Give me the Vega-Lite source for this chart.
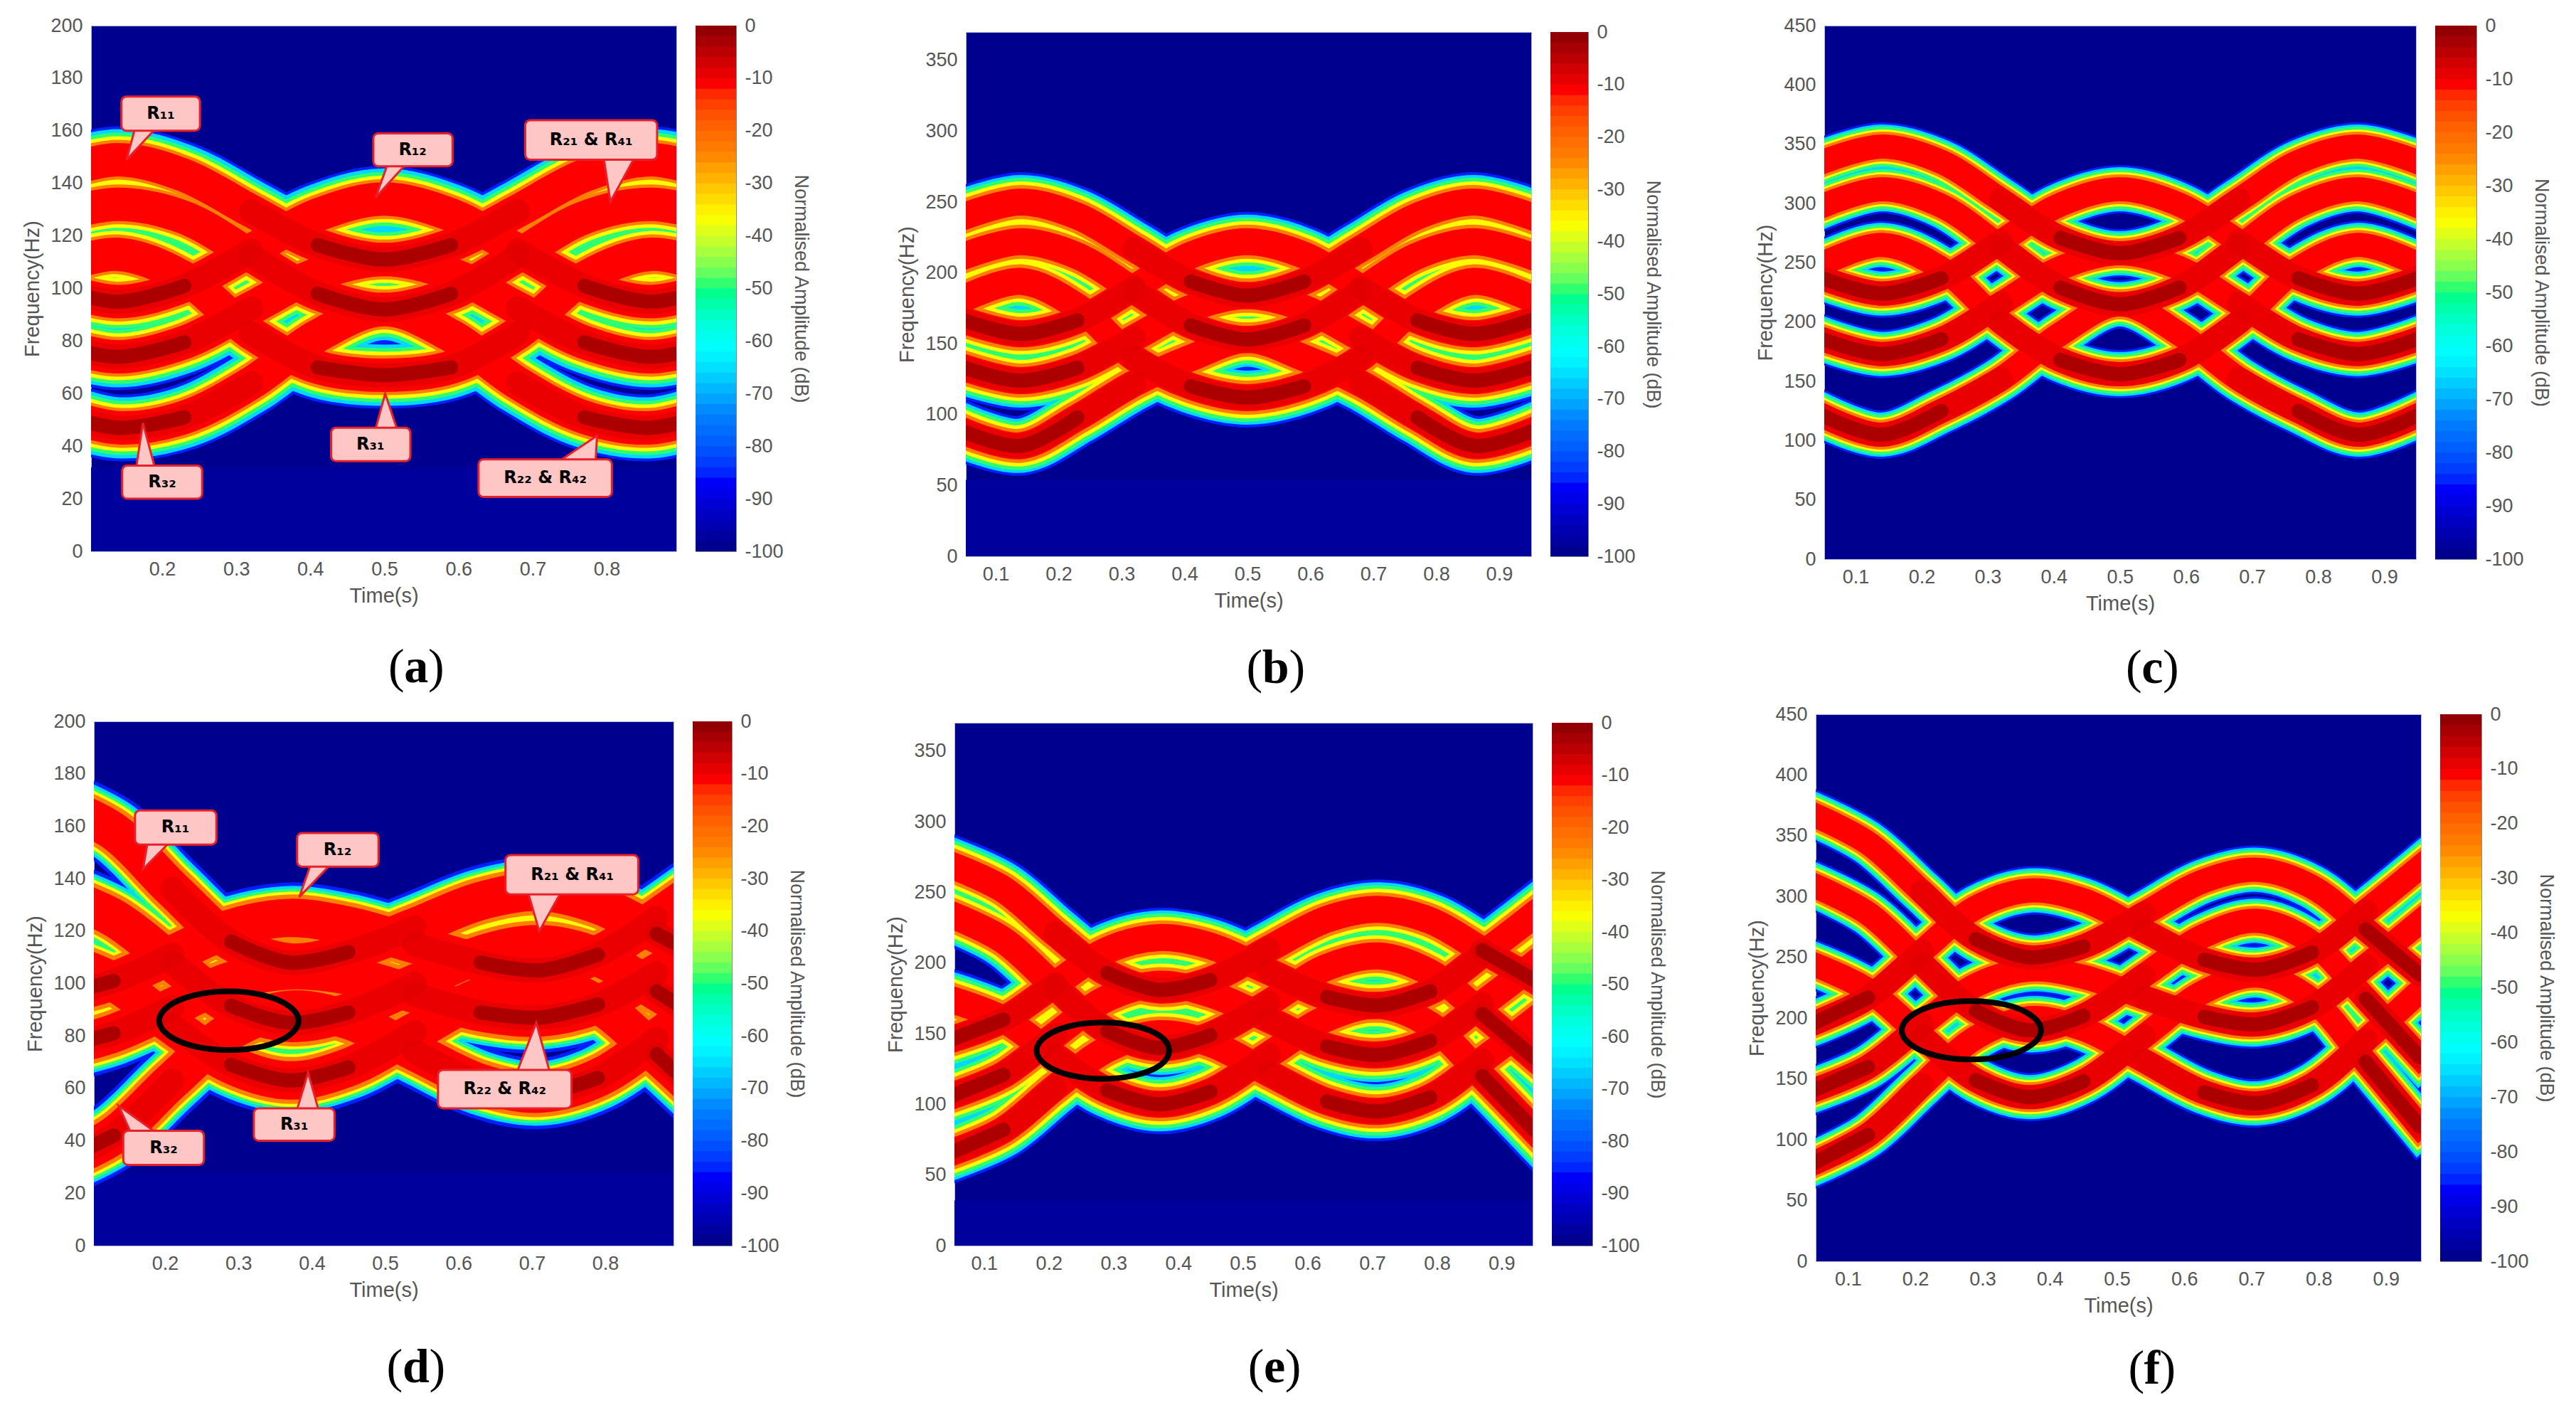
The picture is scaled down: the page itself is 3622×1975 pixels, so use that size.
{"$schema":"https://vega.github.io/schema/vega-lite/v6.json","padding":0,"background":"white","spacing":0,
"datasets":{
"sp":[{"x":1}],
"cb":[{"lo":-100,"hi":-97},{"lo":-98,"hi":-95},{"lo":-96,"hi":-93},{"lo":-94,"hi":-91},{"lo":-92,"hi":-89},{"lo":-90,"hi":-87},{"lo":-88,"hi":-85},{"lo":-86,"hi":-83},{"lo":-84,"hi":-81},{"lo":-82,"hi":-79},{"lo":-80,"hi":-77},{"lo":-78,"hi":-75},{"lo":-76,"hi":-73},{"lo":-74,"hi":-71},{"lo":-72,"hi":-69},{"lo":-70,"hi":-67},{"lo":-68,"hi":-65},{"lo":-66,"hi":-63},{"lo":-64,"hi":-61},{"lo":-62,"hi":-59},{"lo":-60,"hi":-57},{"lo":-58,"hi":-55},{"lo":-56,"hi":-53},{"lo":-54,"hi":-51},{"lo":-52,"hi":-49},{"lo":-50,"hi":-47},{"lo":-48,"hi":-45},{"lo":-46,"hi":-43},{"lo":-44,"hi":-41},{"lo":-42,"hi":-39},{"lo":-40,"hi":-37},{"lo":-38,"hi":-35},{"lo":-36,"hi":-33},{"lo":-34,"hi":-31},{"lo":-32,"hi":-29},{"lo":-30,"hi":-27},{"lo":-28,"hi":-25},{"lo":-26,"hi":-23},{"lo":-24,"hi":-21},{"lo":-22,"hi":-19},{"lo":-20,"hi":-17},{"lo":-18,"hi":-15},{"lo":-16,"hi":-13},{"lo":-14,"hi":-11},{"lo":-12,"hi":-9},{"lo":-10,"hi":-7},{"lo":-8,"hi":-5},{"lo":-6,"hi":-3},{"lo":-4,"hi":-1},{"lo":-2,"hi":0}],
"a":[{"k":"f1","t":0.05,"f":143},{"k":"f1","t":0.14,"f":149},{"k":"f1","t":0.23,"f":143},{"k":"f1","t":0.32,"f":129.5},{"k":"f1","t":0.41,"f":116.5},{"k":"f1","t":0.5,"f":111},{"k":"f1","t":0.59,"f":116.5},{"k":"f1","t":0.68,"f":129.5},{"k":"f1","t":0.77,"f":143},{"k":"f1","t":0.86,"f":149},{"k":"f1","t":0.95,"f":143},
{"k":"f2","t":0.05,"f":127},{"k":"f2","t":0.14,"f":132},{"k":"f2","t":0.23,"f":127},{"k":"f2","t":0.32,"f":112.5},{"k":"f2","t":0.41,"f":98},{"k":"f2","t":0.5,"f":92},{"k":"f2","t":0.59,"f":98},{"k":"f2","t":0.68,"f":112.5},{"k":"f2","t":0.77,"f":127},{"k":"f2","t":0.86,"f":132},{"k":"f2","t":0.95,"f":127},
{"k":"f3","t":0.05,"f":107},{"k":"f3","t":0.14,"f":113},{"k":"f3","t":0.23,"f":104},{"k":"f3","t":0.32,"f":83},{"k":"f3","t":0.41,"f":70},{"k":"f3","t":0.5,"f":67},{"k":"f3","t":0.59,"f":70},{"k":"f3","t":0.68,"f":83},{"k":"f3","t":0.77,"f":104},{"k":"f3","t":0.86,"f":113},{"k":"f3","t":0.95,"f":107},
{"k":"r1","t":0.05,"f":101},{"k":"r1","t":0.14,"f":95},{"k":"r1","t":0.23,"f":101},{"k":"r1","t":0.32,"f":114.5},{"k":"r1","t":0.41,"f":128},{"k":"r1","t":0.5,"f":134},{"k":"r1","t":0.59,"f":128},{"k":"r1","t":0.68,"f":114.5},{"k":"r1","t":0.77,"f":101},{"k":"r1","t":0.86,"f":95},{"k":"r1","t":0.95,"f":101},
{"k":"r2","t":0.05,"f":79.5},{"k":"r2","t":0.14,"f":74},{"k":"r2","t":0.23,"f":79.5},{"k":"r2","t":0.32,"f":92.5},{"k":"r2","t":0.41,"f":105.5},{"k":"r2","t":0.5,"f":111},{"k":"r2","t":0.59,"f":105.5},{"k":"r2","t":0.68,"f":92.5},{"k":"r2","t":0.77,"f":79.5},{"k":"r2","t":0.86,"f":74},{"k":"r2","t":0.95,"f":79.5},
{"k":"r3","t":0.05,"f":53.5},{"k":"r3","t":0.14,"f":47},{"k":"r3","t":0.23,"f":51},{"k":"r3","t":0.32,"f":64},{"k":"r3","t":0.41,"f":82},{"k":"r3","t":0.5,"f":92},{"k":"r3","t":0.59,"f":82},{"k":"r3","t":0.68,"f":64},{"k":"r3","t":0.77,"f":51},{"k":"r3","t":0.86,"f":47},{"k":"r3","t":0.95,"f":53.5}],
"b":[{"k":"f1","t":0.05,"f":240},{"k":"f1","t":0.14,"f":250},{"k":"f1","t":0.23,"f":240},{"k":"f1","t":0.32,"f":217},{"k":"f1","t":0.41,"f":194},{"k":"f1","t":0.5,"f":184},{"k":"f1","t":0.59,"f":194},{"k":"f1","t":0.68,"f":217},{"k":"f1","t":0.77,"f":240},{"k":"f1","t":0.86,"f":250},{"k":"f1","t":0.95,"f":240},
{"k":"f2","t":0.05,"f":212},{"k":"f2","t":0.14,"f":222},{"k":"f2","t":0.23,"f":212},{"k":"f2","t":0.32,"f":187.5},{"k":"f2","t":0.41,"f":163},{"k":"f2","t":0.5,"f":153},{"k":"f2","t":0.59,"f":163},{"k":"f2","t":0.68,"f":187.5},{"k":"f2","t":0.77,"f":212},{"k":"f2","t":0.86,"f":222},{"k":"f2","t":0.95,"f":212},
{"k":"f3","t":0.05,"f":182},{"k":"f3","t":0.14,"f":194},{"k":"f3","t":0.23,"f":176},{"k":"f3","t":0.32,"f":140},{"k":"f3","t":0.41,"f":120},{"k":"f3","t":0.5,"f":112},{"k":"f3","t":0.59,"f":120},{"k":"f3","t":0.68,"f":140},{"k":"f3","t":0.77,"f":176},{"k":"f3","t":0.86,"f":194},{"k":"f3","t":0.95,"f":182},
{"k":"r1","t":0.05,"f":166.5},{"k":"r1","t":0.14,"f":157},{"k":"r1","t":0.23,"f":166.5},{"k":"r1","t":0.32,"f":189.5},{"k":"r1","t":0.41,"f":212.5},{"k":"r1","t":0.5,"f":222},{"k":"r1","t":0.59,"f":212.5},{"k":"r1","t":0.68,"f":189.5},{"k":"r1","t":0.77,"f":166.5},{"k":"r1","t":0.86,"f":157},{"k":"r1","t":0.95,"f":166.5},
{"k":"r2","t":0.05,"f":133},{"k":"r2","t":0.14,"f":124},{"k":"r2","t":0.23,"f":133},{"k":"r2","t":0.32,"f":154},{"k":"r2","t":0.41,"f":175},{"k":"r2","t":0.5,"f":184},{"k":"r2","t":0.59,"f":175},{"k":"r2","t":0.68,"f":154},{"k":"r2","t":0.77,"f":133},{"k":"r2","t":0.86,"f":124},{"k":"r2","t":0.95,"f":133},
{"k":"r3","t":0.05,"f":88},{"k":"r3","t":0.14,"f":78},{"k":"r3","t":0.23,"f":98},{"k":"r3","t":0.32,"f":122},{"k":"r3","t":0.41,"f":140},{"k":"r3","t":0.5,"f":153},{"k":"r3","t":0.59,"f":140},{"k":"r3","t":0.68,"f":122},{"k":"r3","t":0.77,"f":98},{"k":"r3","t":0.86,"f":78},{"k":"r3","t":0.95,"f":88}],
"c":[{"k":"f1","t":0.05,"f":335},{"k":"f1","t":0.14,"f":348},{"k":"f1","t":0.23,"f":335},{"k":"f1","t":0.32,"f":303},{"k":"f1","t":0.41,"f":271},{"k":"f1","t":0.5,"f":258},{"k":"f1","t":0.59,"f":271},{"k":"f1","t":0.68,"f":303},{"k":"f1","t":0.77,"f":335},{"k":"f1","t":0.86,"f":348},{"k":"f1","t":0.95,"f":335},
{"k":"f2","t":0.05,"f":298},{"k":"f2","t":0.14,"f":312},{"k":"f2","t":0.23,"f":298},{"k":"f2","t":0.32,"f":263.5},{"k":"f2","t":0.41,"f":229},{"k":"f2","t":0.5,"f":215},{"k":"f2","t":0.59,"f":229},{"k":"f2","t":0.68,"f":263.5},{"k":"f2","t":0.77,"f":298},{"k":"f2","t":0.86,"f":312},{"k":"f2","t":0.95,"f":298},
{"k":"f3","t":0.05,"f":249},{"k":"f3","t":0.14,"f":265},{"k":"f3","t":0.23,"f":245},{"k":"f3","t":0.32,"f":200},{"k":"f3","t":0.41,"f":168},{"k":"f3","t":0.5,"f":156},{"k":"f3","t":0.59,"f":168},{"k":"f3","t":0.68,"f":200},{"k":"f3","t":0.77,"f":245},{"k":"f3","t":0.86,"f":265},{"k":"f3","t":0.95,"f":249},
{"k":"r1","t":0.05,"f":237},{"k":"r1","t":0.14,"f":224},{"k":"r1","t":0.23,"f":237},{"k":"r1","t":0.32,"f":268},{"k":"r1","t":0.41,"f":299},{"k":"r1","t":0.5,"f":312},{"k":"r1","t":0.59,"f":299},{"k":"r1","t":0.68,"f":268},{"k":"r1","t":0.77,"f":237},{"k":"r1","t":0.86,"f":224},{"k":"r1","t":0.95,"f":237},
{"k":"r2","t":0.05,"f":185.5},{"k":"r2","t":0.14,"f":173},{"k":"r2","t":0.23,"f":185.5},{"k":"r2","t":0.32,"f":215.5},{"k":"r2","t":0.41,"f":245.5},{"k":"r2","t":0.5,"f":258},{"k":"r2","t":0.59,"f":245.5},{"k":"r2","t":0.68,"f":215.5},{"k":"r2","t":0.77,"f":185.5},{"k":"r2","t":0.86,"f":173},{"k":"r2","t":0.95,"f":185.5},
{"k":"r3","t":0.05,"f":121},{"k":"r3","t":0.14,"f":105},{"k":"r3","t":0.23,"f":125},{"k":"r3","t":0.32,"f":152},{"k":"r3","t":0.41,"f":190},{"k":"r3","t":0.5,"f":215},{"k":"r3","t":0.59,"f":190},{"k":"r3","t":0.68,"f":152},{"k":"r3","t":0.77,"f":125},{"k":"r3","t":0.86,"f":105},{"k":"r3","t":0.95,"f":121}],
"d":[{"k":"f1","t":0.05,"f":169},{"k":"f1","t":0.13,"f":158},{"k":"f1","t":0.21,"f":136},{"k":"f1","t":0.29,"f":116},{"k":"f1","t":0.37,"f":108},{"k":"f1","t":0.45,"f":112},{"k":"f1","t":0.54,"f":121.5},{"k":"f1","t":0.63,"f":131.5},{"k":"f1","t":0.71,"f":135},{"k":"f1","t":0.79,"f":130},{"k":"f1","t":0.87,"f":119},{"k":"f1","t":0.95,"f":107},
{"k":"f2","t":0.05,"f":134.5},{"k":"f2","t":0.13,"f":125},{"k":"f2","t":0.21,"f":108},{"k":"f2","t":0.29,"f":91.5},{"k":"f2","t":0.37,"f":85},{"k":"f2","t":0.45,"f":89},{"k":"f2","t":0.54,"f":100},{"k":"f2","t":0.63,"f":111},{"k":"f2","t":0.71,"f":115},{"k":"f2","t":0.79,"f":110},{"k":"f2","t":0.87,"f":97},{"k":"f2","t":0.95,"f":83},
{"k":"f3","t":0.05,"f":109.5},{"k":"f3","t":0.13,"f":100.6},{"k":"f3","t":0.21,"f":84},{"k":"f3","t":0.29,"f":69},{"k":"f3","t":0.37,"f":63},{"k":"f3","t":0.45,"f":68},{"k":"f3","t":0.54,"f":81.5},{"k":"f3","t":0.63,"f":95},{"k":"f3","t":0.71,"f":100},{"k":"f3","t":0.79,"f":92},{"k":"f3","t":0.87,"f":73},{"k":"f3","t":0.95,"f":52},
{"k":"r1","t":0.05,"f":95},{"k":"r1","t":0.13,"f":101},{"k":"r1","t":0.21,"f":111},{"k":"r1","t":0.29,"f":121},{"k":"r1","t":0.37,"f":125},{"k":"r1","t":0.45,"f":122},{"k":"r1","t":0.54,"f":115},{"k":"r1","t":0.63,"f":108},{"k":"r1","t":0.71,"f":105},{"k":"r1","t":0.79,"f":111},{"k":"r1","t":0.87,"f":125},{"k":"r1","t":0.95,"f":141},
{"k":"r2","t":0.05,"f":75},{"k":"r2","t":0.13,"f":81},{"k":"r2","t":0.21,"f":91},{"k":"r2","t":0.29,"f":101},{"k":"r2","t":0.37,"f":105},{"k":"r2","t":0.45,"f":103},{"k":"r2","t":0.54,"f":96},{"k":"r2","t":0.63,"f":89},{"k":"r2","t":0.71,"f":87},{"k":"r2","t":0.79,"f":92},{"k":"r2","t":0.87,"f":104},{"k":"r2","t":0.95,"f":117},
{"k":"r3","t":0.05,"f":31},{"k":"r3","t":0.13,"f":42},{"k":"r3","t":0.21,"f":63},{"k":"r3","t":0.29,"f":82},{"k":"r3","t":0.37,"f":90},{"k":"r3","t":0.45,"f":86},{"k":"r3","t":0.54,"f":74},{"k":"r3","t":0.63,"f":62},{"k":"r3","t":0.71,"f":58},{"k":"r3","t":0.79,"f":64},{"k":"r3","t":0.87,"f":79},{"k":"r3","t":0.95,"f":96}],
"e":[{"k":"f1","t":0.05,"f":269},{"k":"f1","t":0.13,"f":252},{"k":"f1","t":0.21,"f":221},{"k":"f1","t":0.29,"f":193},{"k":"f1","t":0.37,"f":181},{"k":"f1","t":0.45,"f":188},{"k":"f1","t":0.54,"f":210},{"k":"f1","t":0.63,"f":231},{"k":"f1","t":0.71,"f":238},{"k":"f1","t":0.79,"f":230},{"k":"f1","t":0.87,"f":209},{"k":"f1","t":0.95,"f":188},
{"k":"f2","t":0.05,"f":234},{"k":"f2","t":0.13,"f":216},{"k":"f2","t":0.21,"f":183},{"k":"f2","t":0.29,"f":152},{"k":"f2","t":0.37,"f":140},{"k":"f2","t":0.45,"f":149},{"k":"f2","t":0.54,"f":172},{"k":"f2","t":0.63,"f":197},{"k":"f2","t":0.71,"f":205},{"k":"f2","t":0.79,"f":193},{"k":"f2","t":0.87,"f":164},{"k":"f2","t":0.95,"f":133},
{"k":"f3","t":0.05,"f":174},{"k":"f3","t":0.13,"f":160},{"k":"f3","t":0.21,"f":134},{"k":"f3","t":0.29,"f":110},{"k":"f3","t":0.37,"f":100},{"k":"f3","t":0.45,"f":109},{"k":"f3","t":0.54,"f":135},{"k":"f3","t":0.63,"f":161},{"k":"f3","t":0.71,"f":170},{"k":"f3","t":0.79,"f":156},{"k":"f3","t":0.87,"f":120},{"k":"f3","t":0.95,"f":82},
{"k":"r1","t":0.05,"f":146},{"k":"r1","t":0.13,"f":160},{"k":"r1","t":0.21,"f":185},{"k":"r1","t":0.29,"f":209},{"k":"r1","t":0.37,"f":218},{"k":"r1","t":0.45,"f":212},{"k":"r1","t":0.54,"f":194},{"k":"r1","t":0.63,"f":176},{"k":"r1","t":0.71,"f":170},{"k":"r1","t":0.79,"f":180},{"k":"r1","t":0.87,"f":206},{"k":"r1","t":0.95,"f":234},
{"k":"r2","t":0.05,"f":106},{"k":"r2","t":0.13,"f":121},{"k":"r2","t":0.21,"f":149},{"k":"r2","t":0.29,"f":175},{"k":"r2","t":0.37,"f":185},{"k":"r2","t":0.45,"f":178},{"k":"r2","t":0.54,"f":160},{"k":"r2","t":0.63,"f":141},{"k":"r2","t":0.71,"f":135},{"k":"r2","t":0.79,"f":145},{"k":"r2","t":0.87,"f":171},{"k":"r2","t":0.95,"f":199},
{"k":"r3","t":0.05,"f":66},{"k":"r3","t":0.13,"f":82},{"k":"r3","t":0.21,"f":112},{"k":"r3","t":0.29,"f":139},{"k":"r3","t":0.37,"f":150},{"k":"r3","t":0.45,"f":143},{"k":"r3","t":0.54,"f":122},{"k":"r3","t":0.63,"f":102},{"k":"r3","t":0.71,"f":95},{"k":"r3","t":0.79,"f":105},{"k":"r3","t":0.87,"f":131},{"k":"r3","t":0.95,"f":159}],
"ff":[{"k":"f1","t":0.05,"f":367},{"k":"f1","t":0.13,"f":344},{"k":"f1","t":0.21,"f":304},{"k":"f1","t":0.29,"f":265},{"k":"f1","t":0.37,"f":250},{"k":"f1","t":0.45,"f":259},{"k":"f1","t":0.54,"f":286},{"k":"f1","t":0.63,"f":313},{"k":"f1","t":0.71,"f":322},{"k":"f1","t":0.79,"f":308},{"k":"f1","t":0.87,"f":273},{"k":"f1","t":0.95,"f":236},
{"k":"f2","t":0.05,"f":309},{"k":"f2","t":0.13,"f":286},{"k":"f2","t":0.21,"f":245},{"k":"f2","t":0.29,"f":206},{"k":"f2","t":0.37,"f":190},{"k":"f2","t":0.45,"f":202},{"k":"f2","t":0.54,"f":235},{"k":"f2","t":0.63,"f":268},{"k":"f2","t":0.71,"f":280},{"k":"f2","t":0.79,"f":262},{"k":"f2","t":0.87,"f":216},{"k":"f2","t":0.95,"f":168},
{"k":"f3","t":0.05,"f":244},{"k":"f3","t":0.13,"f":223},{"k":"f3","t":0.21,"f":185},{"k":"f3","t":0.29,"f":149},{"k":"f3","t":0.37,"f":135},{"k":"f3","t":0.45,"f":148},{"k":"f3","t":0.54,"f":185},{"k":"f3","t":0.63,"f":222},{"k":"f3","t":0.71,"f":235},{"k":"f3","t":0.79,"f":215},{"k":"f3","t":0.87,"f":164},{"k":"f3","t":0.95,"f":111},
{"k":"r1","t":0.05,"f":196},{"k":"r1","t":0.13,"f":217},{"k":"r1","t":0.21,"f":255},{"k":"r1","t":0.29,"f":291},{"k":"r1","t":0.37,"f":305},{"k":"r1","t":0.45,"f":297},{"k":"r1","t":0.54,"f":272},{"k":"r1","t":0.63,"f":248},{"k":"r1","t":0.71,"f":240},{"k":"r1","t":0.79,"f":254},{"k":"r1","t":0.87,"f":288},{"k":"r1","t":0.95,"f":324},
{"k":"r2","t":0.05,"f":141},{"k":"r2","t":0.13,"f":160},{"k":"r2","t":0.21,"f":195},{"k":"r2","t":0.29,"f":227},{"k":"r2","t":0.37,"f":240},{"k":"r2","t":0.45,"f":234},{"k":"r2","t":0.54,"f":217},{"k":"r2","t":0.63,"f":201},{"k":"r2","t":0.71,"f":195},{"k":"r2","t":0.79,"f":209},{"k":"r2","t":0.87,"f":243},{"k":"r2","t":0.95,"f":279},
{"k":"r3","t":0.05,"f":81},{"k":"r3","t":0.13,"f":104},{"k":"r3","t":0.21,"f":145},{"k":"r3","t":0.29,"f":184},{"k":"r3","t":0.37,"f":200},{"k":"r3","t":0.45,"f":191},{"k":"r3","t":0.54,"f":165},{"k":"r3","t":0.63,"f":139},{"k":"r3","t":0.71,"f":130},{"k":"r3","t":0.79,"f":145},{"k":"r3","t":0.87,"f":182},{"k":"r3","t":0.95,"f":222}],
"aBox":[{"t":0.145,"t2":0.251,"f":173,"f2":160},{"t":0.485,"t2":0.592,"f":159,"f2":146.5},{"t":0.69,"t2":0.868,"f":164,"f2":149},{"t":0.428,"t2":0.535,"f":47,"f2":34.3},{"t":0.146,"t2":0.254,"f":32.6,"f2":20},{"t":0.627,"t2":0.807,"f":35,"f2":20.7}],
"aTxt":[{"t":0.198,"f":166.5,"s":"R₁₁"},{"t":0.538,"f":152.7,"s":"R₁₂"},{"t":0.779,"f":156.5,"s":"R₂₁ & R₄₁"},{"t":0.481,"f":40.6,"s":"R₃₁"},{"t":0.2,"f":26.3,"s":"R₃₂"},{"t":0.717,"f":27.8,"s":"R₂₂ & R₄₂"}],
"aTip":[{"k":"1","t":0.163,"f":160.5},{"k":"1","t":0.152,"f":149},{"k":"1","t":0.19,"f":160.5},{"k":"2","t":0.504,"f":147},{"k":"2","t":0.488,"f":134.6},{"k":"2","t":0.528,"f":147},{"k":"3","t":0.796,"f":149.5},{"k":"3","t":0.805,"f":133},{"k":"3","t":0.837,"f":149.5},{"k":"4","t":0.488,"f":46.5},{"k":"4","t":0.501,"f":60},{"k":"4","t":0.517,"f":46.5},{"k":"5","t":0.165,"f":32},{"k":"5","t":0.174,"f":48.8},{"k":"5","t":0.19,"f":32},{"k":"6","t":0.737,"f":34.5},{"k":"6","t":0.787,"f":44},{"k":"6","t":0.785,"f":34.5}],
"dBox":[{"t":0.159,"t2":0.27,"f":166,"f2":153},{"t":0.38,"t2":0.491,"f":157.4,"f2":144.6},{"t":0.664,"t2":0.845,"f":149,"f2":134},{"t":0.572,"t2":0.754,"f":67,"f2":52.4},{"t":0.321,"t2":0.431,"f":52.4,"f2":40},{"t":0.143,"t2":0.253,"f":43.8,"f2":30.8}],
"dTxt":[{"t":0.214,"f":159.5,"s":"R₁₁"},{"t":0.435,"f":151,"s":"R₁₂"},{"t":0.755,"f":141.5,"s":"R₂₁ & R₄₁"},{"t":0.663,"f":59.7,"s":"R₂₂ & R₄₂"},{"t":0.376,"f":46.2,"s":"R₃₁"},{"t":0.198,"f":37.3,"s":"R₃₂"}],
"dTip":[{"k":"1","t":0.176,"f":153.5},{"k":"1","t":0.17,"f":143.6},{"k":"1","t":0.205,"f":153.5},{"k":"2","t":0.398,"f":145},{"k":"2","t":0.383,"f":133},{"k":"2","t":0.424,"f":145},{"k":"3","t":0.695,"f":134.5},{"k":"3","t":0.71,"f":120},{"k":"3","t":0.739,"f":134.5},{"k":"4","t":0.68,"f":66.5},{"k":"4","t":0.706,"f":85},{"k":"4","t":0.724,"f":66.5},{"k":"5","t":0.38,"f":52},{"k":"5","t":0.395,"f":66},{"k":"5","t":0.409,"f":52},{"k":"6","t":0.153,"f":43.3},{"k":"6","t":0.137,"f":53.3},{"k":"6","t":0.187,"f":43.3}],
"dEll":[{"t":0.382,"f":85.8},{"t":0.369,"f":91.4},{"t":0.3345,"f":95.5},{"t":0.287,"f":97},{"t":0.2395,"f":95.5},{"t":0.205,"f":91.4},{"t":0.192,"f":85.8},{"t":0.205,"f":80.2},{"t":0.2395,"f":76.1},{"t":0.287,"f":74.6},{"t":0.3345,"f":76.1},{"t":0.369,"f":80.2}],
"eEll":[{"t":0.386,"f":138},{"t":0.373,"f":148},{"t":0.335,"f":155.3},{"t":0.284,"f":158},{"t":0.232,"f":155.3},{"t":0.195,"f":148},{"t":0.181,"f":138},{"t":0.195,"f":128},{"t":0.232,"f":120.7},{"t":0.284,"f":118},{"t":0.335,"f":120.7},{"t":0.373,"f":128}],
"fEll":[{"t":0.387,"f":190},{"t":0.373,"f":202},{"t":0.335,"f":211},{"t":0.283,"f":214},{"t":0.232,"f":211},{"t":0.194,"f":202},{"t":0.18,"f":190},{"t":0.194,"f":178},{"t":0.232,"f":169},{"t":0.283,"f":166},{"t":0.335,"f":169},{"t":0.373,"f":178}]
},
"hconcat":[
{"spacing":0,"vconcat":[
{"width":1,"height":21,"data":{"name":"sp"},"mark":{"type":"rect","opacity":0}},
{"spacing":27,"bounds":"flush","hconcat":[
{"width":101,"height":1,"data":{"name":"sp"},"mark":{"type":"rect","opacity":0}},
{"width":823,"height":739,"view":{"fill":"#00008f","stroke":"#b4bcd8"},"data":{"name":"a"},
"transform":[{"calculate":"datum.k[0]=='f'?datum.k:datum.k+(datum.t<0.5)","as":"arc"}],
"encoding":{"x":{"field":"t","type":"quantitative","scale":{"domain":[0.104,0.894],"nice":false,"zero":false},"axis":{"values":[0.2,0.3,0.4,0.5,0.6,0.7,0.8],"format":".1f","title":"Time(s)"}},"y":{"field":"f","type":"quantitative","scale":{"domain":[0,200],"nice":false},"axis":{"values":[0,20,40,60,80,100,120,140,160,180,200],"title":"Frequency(Hz)"}},"detail":{"field":"k"}},
"layer":[
{"data":{"values":[{"t":0,"t2":1,"f":0,"f2":32}]},"mark":{"type":"rect","fill":"#00009c","clip":true},"encoding":{"x2":{"field":"t2"},"y2":{"field":"f2"}}},
{"mark":{"type":"line","style":"a0","stroke":"#0020ff","clip":true}},{"mark":{"type":"line","style":"a1","stroke":"#00d8ff","clip":true}},{"mark":{"type":"line","style":"a2","stroke":"#30ff70","clip":true}},{"mark":{"type":"line","style":"a3","stroke":"#ffff00","clip":true}},{"mark":{"type":"line","style":"a4","stroke":"#ff8000","clip":true}},{"mark":{"type":"line","style":"a5","stroke":"#ff0000","clip":true}},
{"transform":[{"filter":"datum.k[0]=='f'?(datum.t>=0.32&&datum.t<=0.68):(datum.t<=0.32||datum.t>=0.68)"}],"mark":{"type":"line","style":"d1","stroke":"#dc0000","clip":true},"encoding":{"detail":{"field":"arc"}}},
{"transform":[{"filter":"datum.k[0]=='f'?(datum.t>=0.41&&datum.t<=0.59):(datum.t<=0.23||datum.t>=0.77)"}],"mark":{"type":"line","style":"d2","stroke":"#9c0000","clip":true},"encoding":{"detail":{"field":"arc"}}},
{"data":{"name":"aTip"},"mark":{"type":"line","style":"tip","stroke":"#e8202a","interpolate":"linear-closed"},"encoding":{"order":{"value":null}}},
{"data":{"name":"aBox"},"mark":{"type":"rect","style":"box","fill":"#ffc6c6","stroke":"#e8202a"},"encoding":{"x2":{"field":"t2"},"y2":{"field":"f2"}}},
{"data":{"name":"aTxt"},"mark":{"type":"text","style":"call"},"encoding":{"text":{"field":"s"}}},
{"data":{"values":[{"t":0.543,"f":0,"s":"("}]},"mark":{"type":"text","style":"lab","dx":-28,"dy":164},"encoding":{"text":{"field":"s"}}},
{"data":{"values":[{"t":0.543,"f":0,"s":"a"}]},"mark":{"type":"text","style":"lab","fontWeight":"bold","dy":164},"encoding":{"text":{"field":"s"}}},
{"data":{"values":[{"t":0.543,"f":0,"s":")"}]},"mark":{"type":"text","style":"lab","dx":28,"dy":164},"encoding":{"text":{"field":"s"}}}
]},
{"width":57,"height":739,"view":{"stroke":"#8a8a8a"},"data":{"name":"cb"},"mark":{"type":"rect","clip":true},"encoding":{"y":{"field":"lo","type":"quantitative","scale":{"domain":[-100,0],"nice":false},"axis":{"orient":"right","tickCount":11,"labelExpr":"''+datum.value","title":"Normalised Amplitude (dB)","titleFontSize":27}},"y2":{"field":"hi"},"color":{"field":"lo","type":"quantitative","scale":{"domain":[-100,0]},"legend":null}}}
]},
{"width":1,"height":25,"data":{"name":"sp"},"mark":{"type":"rect","opacity":0}},
{"spacing":27,"bounds":"flush","hconcat":[
{"width":105,"height":1,"data":{"name":"sp"},"mark":{"type":"rect","opacity":0}},
{"width":815,"height":737,"view":{"fill":"#00008f","stroke":"#b4bcd8"},"data":{"name":"d"},
"transform":[{"calculate":"datum.k+(datum.t<(datum.k[0]=='f'?0.7:0.4))","as":"arc"}],
"encoding":{"x":{"field":"t","type":"quantitative","scale":{"domain":[0.103,0.893],"nice":false,"zero":false},"axis":{"values":[0.2,0.3,0.4,0.5,0.6,0.7,0.8],"format":".1f","title":"Time(s)"}},"y":{"field":"f","type":"quantitative","scale":{"domain":[0,200],"nice":false},"axis":{"values":[0,20,40,60,80,100,120,140,160,180,200],"title":"Frequency(Hz)"}},"detail":{"field":"k"}},
"layer":[
{"data":{"values":[{"t":0,"t2":1,"f":0,"f2":28}]},"mark":{"type":"rect","fill":"#00009c","clip":true},"encoding":{"x2":{"field":"t2"},"y2":{"field":"f2"}}},
{"mark":{"type":"line","style":"s0","stroke":"#0020ff","clip":true}},{"mark":{"type":"line","style":"s1","stroke":"#00d8ff","clip":true}},{"mark":{"type":"line","style":"s2","stroke":"#30ff70","clip":true}},{"mark":{"type":"line","style":"s3","stroke":"#ffff00","clip":true}},{"mark":{"type":"line","style":"s4","stroke":"#ff8000","clip":true}},{"mark":{"type":"line","style":"s5","stroke":"#ff0000","clip":true}},
{"transform":[{"filter":"datum.k[0]=='f'?((datum.t>=0.21&&datum.t<=0.54)||datum.t>=0.87):(datum.t<=0.21||(datum.t>=0.54&&datum.t<=0.87))"}],"mark":{"type":"line","style":"d1","stroke":"#dc0000","clip":true},"encoding":{"detail":{"field":"arc"}}},
{"transform":[{"filter":"datum.k[0]=='f'?((datum.t>=0.29&&datum.t<=0.45)||datum.t>=0.87):(datum.t<=0.13||(datum.t>=0.63&&datum.t<=0.79))"}],"mark":{"type":"line","style":"d2","stroke":"#9c0000","clip":true},"encoding":{"detail":{"field":"arc"}}},
{"data":{"name":"dEll"},"mark":{"type":"line","style":"ell","stroke":"#000000"},"encoding":{"order":{"value":null},"detail":{"value":1}}},
{"data":{"name":"dTip"},"mark":{"type":"line","style":"tip","stroke":"#e8202a","interpolate":"linear-closed"},"encoding":{"order":{"value":null}}},
{"data":{"name":"dBox"},"mark":{"type":"rect","style":"box","fill":"#ffc6c6","stroke":"#e8202a"},"encoding":{"x2":{"field":"t2"},"y2":{"field":"f2"}}},
{"data":{"name":"dTxt"},"mark":{"type":"text","style":"call"},"encoding":{"text":{"field":"s"}}},
{"data":{"values":[{"t":0.542,"f":0,"s":"("}]},"mark":{"type":"text","style":"lab","dx":-30,"dy":172},"encoding":{"text":{"field":"s"}}},
{"data":{"values":[{"t":0.542,"f":0,"s":"d"}]},"mark":{"type":"text","style":"lab","fontWeight":"bold","dy":172},"encoding":{"text":{"field":"s"}}},
{"data":{"values":[{"t":0.542,"f":0,"s":")"}]},"mark":{"type":"text","style":"lab","dx":30,"dy":172},"encoding":{"text":{"field":"s"}}}
]},
{"width":55,"height":737,"view":{"stroke":"#8a8a8a"},"data":{"name":"cb"},"mark":{"type":"rect","clip":true},"encoding":{"y":{"field":"lo","type":"quantitative","scale":{"domain":[-100,0],"nice":false},"axis":{"orient":"right","tickCount":11,"labelExpr":"''+datum.value","title":"Normalised Amplitude (dB)","titleFontSize":27}},"y2":{"field":"hi"},"color":{"field":"lo","type":"quantitative","scale":{"domain":[-100,0]},"legend":null}}}
]}
]},
{"spacing":0,"vconcat":[
{"width":1,"height":30,"data":{"name":"sp"},"mark":{"type":"rect","opacity":0}},
{"spacing":27,"bounds":"flush","hconcat":[
{"width":191,"height":1,"data":{"name":"sp"},"mark":{"type":"rect","opacity":0}},
{"width":795,"height":737,"view":{"fill":"#00008f","stroke":"#b4bcd8"},"data":{"name":"b"},
"transform":[{"calculate":"datum.k[0]=='f'?datum.k:datum.k+(datum.t<0.5)","as":"arc"}],
"encoding":{"x":{"field":"t","type":"quantitative","scale":{"domain":[0.0525,0.951],"nice":false,"zero":false},"axis":{"values":[0.1,0.2,0.3,0.4,0.5,0.6,0.7,0.8,0.9],"format":".1f","title":"Time(s)"}},"y":{"field":"f","type":"quantitative","scale":{"domain":[0,370],"nice":false},"axis":{"values":[0,50,100,150,200,250,300,350],"title":"Frequency(Hz)"}},"detail":{"field":"k"}},
"layer":[
{"data":{"values":[{"t":0,"t2":1,"f":0,"f2":54}]},"mark":{"type":"rect","fill":"#00009c","clip":true},"encoding":{"x2":{"field":"t2"},"y2":{"field":"f2"}}},
{"mark":{"type":"line","style":"b0","stroke":"#0020ff","clip":true}},{"mark":{"type":"line","style":"b1","stroke":"#00d8ff","clip":true}},{"mark":{"type":"line","style":"b2","stroke":"#30ff70","clip":true}},{"mark":{"type":"line","style":"b3","stroke":"#ffff00","clip":true}},{"mark":{"type":"line","style":"b4","stroke":"#ff8000","clip":true}},{"mark":{"type":"line","style":"b5","stroke":"#ff0000","clip":true}},
{"transform":[{"filter":"datum.k[0]=='f'?(datum.t>=0.32&&datum.t<=0.68):(datum.t<=0.32||datum.t>=0.68)"}],"mark":{"type":"line","style":"d1","stroke":"#dc0000","clip":true},"encoding":{"detail":{"field":"arc"}}},
{"transform":[{"filter":"datum.k[0]=='f'?(datum.t>=0.41&&datum.t<=0.59):(datum.t<=0.23||datum.t>=0.77)"}],"mark":{"type":"line","style":"d2","stroke":"#9c0000","clip":true},"encoding":{"detail":{"field":"arc"}}},
{"data":{"values":[{"t":0.545,"f":0,"s":"("}]},"mark":{"type":"text","style":"lab","dx":-30,"dy":158},"encoding":{"text":{"field":"s"}}},
{"data":{"values":[{"t":0.545,"f":0,"s":"b"}]},"mark":{"type":"text","style":"lab","fontWeight":"bold","dy":158},"encoding":{"text":{"field":"s"}}},
{"data":{"values":[{"t":0.545,"f":0,"s":")"}]},"mark":{"type":"text","style":"lab","dx":30,"dy":158},"encoding":{"text":{"field":"s"}}}
]},
{"width":53,"height":737,"view":{"stroke":"#8a8a8a"},"data":{"name":"cb"},"mark":{"type":"rect","clip":true},"encoding":{"y":{"field":"lo","type":"quantitative","scale":{"domain":[-100,0],"nice":false},"axis":{"orient":"right","tickCount":11,"labelExpr":"''+datum.value","title":"Normalised Amplitude (dB)","titleFontSize":27}},"y2":{"field":"hi"},"color":{"field":"lo","type":"quantitative","scale":{"domain":[-100,0]},"legend":null}}}
]},
{"width":1,"height":26,"data":{"name":"sp"},"mark":{"type":"rect","opacity":0}},
{"spacing":27,"bounds":"flush","hconcat":[
{"width":175,"height":1,"data":{"name":"sp"},"mark":{"type":"rect","opacity":0}},
{"width":813,"height":735,"view":{"fill":"#00008f","stroke":"#b4bcd8"},"data":{"name":"e"},
"transform":[{"calculate":"datum.k+(datum.t<(datum.k[0]=='f'?0.7:0.4))","as":"arc"}],
"encoding":{"x":{"field":"t","type":"quantitative","scale":{"domain":[0.054,0.948],"nice":false,"zero":false},"axis":{"values":[0.1,0.2,0.3,0.4,0.5,0.6,0.7,0.8,0.9],"format":".1f","title":"Time(s)"}},"y":{"field":"f","type":"quantitative","scale":{"domain":[0,370],"nice":false},"axis":{"values":[0,50,100,150,200,250,300,350],"title":"Frequency(Hz)"}},"detail":{"field":"k"}},
"layer":[
{"data":{"values":[{"t":0,"t2":1,"f":0,"f2":32}]},"mark":{"type":"rect","fill":"#00009c","clip":true},"encoding":{"x2":{"field":"t2"},"y2":{"field":"f2"}}},
{"mark":{"type":"line","style":"b0","stroke":"#0020ff","clip":true}},{"mark":{"type":"line","style":"b1","stroke":"#00d8ff","clip":true}},{"mark":{"type":"line","style":"b2","stroke":"#30ff70","clip":true}},{"mark":{"type":"line","style":"b3","stroke":"#ffff00","clip":true}},{"mark":{"type":"line","style":"b4","stroke":"#ff8000","clip":true}},{"mark":{"type":"line","style":"b5","stroke":"#ff0000","clip":true}},
{"transform":[{"filter":"datum.k[0]=='f'?((datum.t>=0.21&&datum.t<=0.54)||datum.t>=0.87):(datum.t<=0.21||(datum.t>=0.54&&datum.t<=0.87))"}],"mark":{"type":"line","style":"d1","stroke":"#dc0000","clip":true},"encoding":{"detail":{"field":"arc"}}},
{"transform":[{"filter":"datum.k[0]=='f'?((datum.t>=0.29&&datum.t<=0.45)||datum.t>=0.87):(datum.t<=0.13||(datum.t>=0.63&&datum.t<=0.79))"}],"mark":{"type":"line","style":"d2","stroke":"#9c0000","clip":true},"encoding":{"detail":{"field":"arc"}}},
{"data":{"name":"eEll"},"mark":{"type":"line","style":"ell","stroke":"#000000"},"encoding":{"order":{"value":null},"detail":{"value":1}}},
{"data":{"values":[{"t":0.549,"f":0,"s":"("}]},"mark":{"type":"text","style":"lab","dx":-26,"dy":172},"encoding":{"text":{"field":"s"}}},
{"data":{"values":[{"t":0.549,"f":0,"s":"e"}]},"mark":{"type":"text","style":"lab","fontWeight":"bold","dy":172},"encoding":{"text":{"field":"s"}}},
{"data":{"values":[{"t":0.549,"f":0,"s":")"}]},"mark":{"type":"text","style":"lab","dx":26,"dy":172},"encoding":{"text":{"field":"s"}}}
]},
{"width":57,"height":735,"view":{"stroke":"#8a8a8a"},"data":{"name":"cb"},"mark":{"type":"rect","clip":true},"encoding":{"y":{"field":"lo","type":"quantitative","scale":{"domain":[-100,0],"nice":false},"axis":{"orient":"right","tickCount":11,"labelExpr":"''+datum.value","title":"Normalised Amplitude (dB)","titleFontSize":27}},"y2":{"field":"hi"},"color":{"field":"lo","type":"quantitative","scale":{"domain":[-100,0]},"legend":null}}}
]}
]},
{"spacing":0,"vconcat":[
{"width":1,"height":21,"data":{"name":"sp"},"mark":{"type":"rect","opacity":0}},
{"spacing":27,"bounds":"flush","hconcat":[
{"width":194,"height":1,"data":{"name":"sp"},"mark":{"type":"rect","opacity":0}},
{"width":832,"height":750,"view":{"fill":"#00008f","stroke":"#b4bcd8"},"data":{"name":"c"},
"transform":[{"calculate":"datum.k[0]=='f'?datum.k:datum.k+(datum.t<0.5)","as":"arc"}],
"encoding":{"x":{"field":"t","type":"quantitative","scale":{"domain":[0.0526,0.948],"nice":false,"zero":false},"axis":{"values":[0.1,0.2,0.3,0.4,0.5,0.6,0.7,0.8,0.9],"format":".1f","title":"Time(s)"}},"y":{"field":"f","type":"quantitative","scale":{"domain":[0,450],"nice":false},"axis":{"values":[0,50,100,150,200,250,300,350,400,450],"title":"Frequency(Hz)"}},"detail":{"field":"k"}},
"layer":[
{"mark":{"type":"line","style":"c0","stroke":"#0020ff","clip":true}},{"mark":{"type":"line","style":"c1","stroke":"#00d8ff","clip":true}},{"mark":{"type":"line","style":"c2","stroke":"#30ff70","clip":true}},{"mark":{"type":"line","style":"c3","stroke":"#ffff00","clip":true}},{"mark":{"type":"line","style":"c4","stroke":"#ff8000","clip":true}},{"mark":{"type":"line","style":"c5","stroke":"#ff0000","clip":true}},
{"transform":[{"filter":"datum.k[0]=='f'?(datum.t>=0.32&&datum.t<=0.68):(datum.t<=0.32||datum.t>=0.68)"}],"mark":{"type":"line","style":"d1","stroke":"#dc0000","clip":true},"encoding":{"detail":{"field":"arc"}}},
{"transform":[{"filter":"datum.k[0]=='f'?(datum.t>=0.41&&datum.t<=0.59):(datum.t<=0.23||datum.t>=0.77)"}],"mark":{"type":"line","style":"d2","stroke":"#9c0000","clip":true},"encoding":{"detail":{"field":"arc"}}},
{"data":{"values":[{"t":0.549,"f":0,"s":"("}]},"mark":{"type":"text","style":"lab","dx":-26,"dy":154},"encoding":{"text":{"field":"s"}}},
{"data":{"values":[{"t":0.549,"f":0,"s":"c"}]},"mark":{"type":"text","style":"lab","fontWeight":"bold","dy":154},"encoding":{"text":{"field":"s"}}},
{"data":{"values":[{"t":0.549,"f":0,"s":")"}]},"mark":{"type":"text","style":"lab","dx":26,"dy":154},"encoding":{"text":{"field":"s"}}}
]},
{"width":58,"height":750,"view":{"stroke":"#8a8a8a"},"data":{"name":"cb"},"mark":{"type":"rect","clip":true},"encoding":{"y":{"field":"lo","type":"quantitative","scale":{"domain":[-100,0],"nice":false},"axis":{"orient":"right","tickCount":11,"labelExpr":"''+datum.value","title":"Normalised Amplitude (dB)","titleFontSize":27}},"y2":{"field":"hi"},"color":{"field":"lo","type":"quantitative","scale":{"domain":[-100,0]},"legend":null}}}
]},
{"width":1,"height":14,"data":{"name":"sp"},"mark":{"type":"rect","opacity":0}},
{"spacing":27,"bounds":"flush","hconcat":[
{"width":182,"height":1,"data":{"name":"sp"},"mark":{"type":"rect","opacity":0}},
{"width":851,"height":769,"view":{"fill":"#00008f","stroke":"#b4bcd8"},"data":{"name":"ff"},
"transform":[{"calculate":"datum.k+(datum.t<(datum.k[0]=='f'?0.7:0.4))","as":"arc"}],
"encoding":{"x":{"field":"t","type":"quantitative","scale":{"domain":[0.052,0.952],"nice":false,"zero":false},"axis":{"values":[0.1,0.2,0.3,0.4,0.5,0.6,0.7,0.8,0.9],"format":".1f","title":"Time(s)"}},"y":{"field":"f","type":"quantitative","scale":{"domain":[0,450],"nice":false},"axis":{"values":[0,50,100,150,200,250,300,350,400,450],"title":"Frequency(Hz)"}},"detail":{"field":"k"}},
"layer":[
{"mark":{"type":"line","style":"c0","stroke":"#0020ff","clip":true}},{"mark":{"type":"line","style":"c1","stroke":"#00d8ff","clip":true}},{"mark":{"type":"line","style":"c2","stroke":"#30ff70","clip":true}},{"mark":{"type":"line","style":"c3","stroke":"#ffff00","clip":true}},{"mark":{"type":"line","style":"c4","stroke":"#ff8000","clip":true}},{"mark":{"type":"line","style":"c5","stroke":"#ff0000","clip":true}},
{"transform":[{"filter":"datum.k[0]=='f'?((datum.t>=0.21&&datum.t<=0.54)||datum.t>=0.87):(datum.t<=0.21||(datum.t>=0.54&&datum.t<=0.87))"}],"mark":{"type":"line","style":"d1","stroke":"#dc0000","clip":true},"encoding":{"detail":{"field":"arc"}}},
{"transform":[{"filter":"datum.k[0]=='f'?((datum.t>=0.29&&datum.t<=0.45)||datum.t>=0.87):(datum.t<=0.13||(datum.t>=0.63&&datum.t<=0.79))"}],"mark":{"type":"line","style":"d2","stroke":"#9c0000","clip":true},"encoding":{"detail":{"field":"arc"}}},
{"data":{"name":"fEll"},"mark":{"type":"line","style":"ell","stroke":"#000000"},"encoding":{"order":{"value":null},"detail":{"value":1}}},
{"data":{"values":[{"t":0.552,"f":0,"s":"("}]},"mark":{"type":"text","style":"lab","dx":-22,"dy":152},"encoding":{"text":{"field":"s"}}},
{"data":{"values":[{"t":0.552,"f":0,"s":"f"}]},"mark":{"type":"text","style":"lab","fontWeight":"bold","dy":152},"encoding":{"text":{"field":"s"}}},
{"data":{"values":[{"t":0.552,"f":0,"s":")"}]},"mark":{"type":"text","style":"lab","dx":22,"dy":152},"encoding":{"text":{"field":"s"}}}
]},
{"width":58,"height":769,"view":{"stroke":"#8a8a8a"},"data":{"name":"cb"},"mark":{"type":"rect","clip":true},"encoding":{"y":{"field":"lo","type":"quantitative","scale":{"domain":[-100,0],"nice":false},"axis":{"orient":"right","tickCount":11,"labelExpr":"''+datum.value","title":"Normalised Amplitude (dB)","titleFontSize":27}},"y2":{"field":"hi"},"color":{"field":"lo","type":"quantitative","scale":{"domain":[-100,0]},"legend":null}}}
]}
]}
],
"config":{"view":{"stroke":null},"font":"Liberation Sans",
"range":{"heatmap":["#00008f","#0000ff","#0080ff","#00ffff","#30ff70","#ffff00","#ff8000","#ff0000","#800000"],"ramp":["#00008f","#0000ff","#0080ff","#00ffff","#30ff70","#ffff00","#ff8000","#ff0000","#800000"]},
"axis":{"grid":false,"domain":false,"ticks":false,"labelFontSize":27,"titleFontSize":29,"labelColor":"#555555","titleColor":"#555555","titleFontWeight":"normal","labelPadding":12,"titlePadding":10,"labelFont":"Liberation Sans","titleFont":"Liberation Sans"},
"line":{"interpolate":"catmull-rom"},
"style":{
"a0":{"strokeWidth":94,"strokeCap":"square"},"a1":{"strokeWidth":86,"strokeCap":"square"},"a2":{"strokeWidth":76,"strokeCap":"square"},"a3":{"strokeWidth":66,"strokeCap":"square"},"a4":{"strokeWidth":56,"strokeCap":"square"},"a5":{"strokeWidth":47,"strokeCap":"square"},
"s0":{"strokeWidth":100,"strokeCap":"square"},"s1":{"strokeWidth":90,"strokeCap":"square"},"s2":{"strokeWidth":82,"strokeCap":"square"},"s3":{"strokeWidth":74,"strokeCap":"square"},"s4":{"strokeWidth":66,"strokeCap":"square"},"s5":{"strokeWidth":54,"strokeCap":"square"},
"b0":{"strokeWidth":84,"strokeCap":"square"},"b1":{"strokeWidth":76,"strokeCap":"square"},"b2":{"strokeWidth":68,"strokeCap":"square"},"b3":{"strokeWidth":58,"strokeCap":"square"},"b4":{"strokeWidth":48,"strokeCap":"square"},"b5":{"strokeWidth":38,"strokeCap":"square"},
"c0":{"strokeWidth":68,"strokeCap":"square"},"c1":{"strokeWidth":62,"strokeCap":"square"},"c2":{"strokeWidth":56,"strokeCap":"square"},"c3":{"strokeWidth":48,"strokeCap":"square"},"c4":{"strokeWidth":42,"strokeCap":"square"},"c5":{"strokeWidth":34,"strokeCap":"square"},
"d1":{"strokeWidth":34,"strokeCap":"round","strokeOpacity":0.6},"d2":{"strokeWidth":20,"strokeCap":"round","strokeOpacity":0.8},
"tip":{"strokeWidth":3,"fill":"#ffc6c6"},
"box":{"strokeWidth":3,"cornerRadius":7},
"call":{"font":"DejaVu Sans","fontSize":24,"fontWeight":"bold","fill":"#111111","align":"center","baseline":"middle"},
"ell":{"strokeWidth":8,"interpolate":"cardinal-closed"},
"lab":{"font":"Liberation Serif","fontSize":68,"fill":"#000000","align":"center","baseline":"middle"}
}}}
